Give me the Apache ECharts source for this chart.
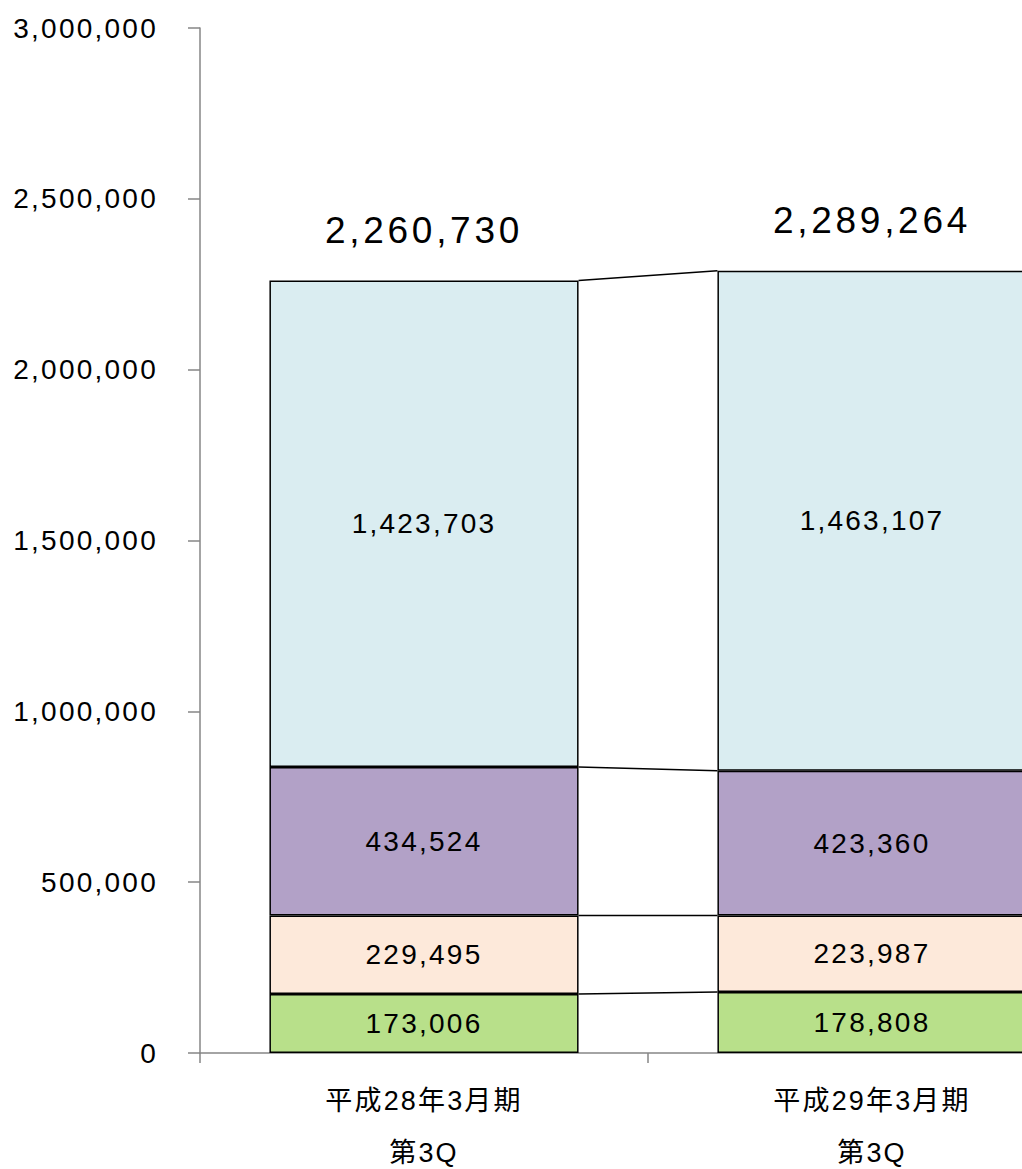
<!DOCTYPE html>
<html>
<head>
<meta charset="utf-8">
<script src="https://cdn.jsdelivr.net/npm/echarts@6/dist/echarts.min.js"></script>
<style>
html, body { margin: 0; padding: 0; background: #fff; }
#chart { width: 1022px; height: 1169px; }
#chart text { letter-spacing: 0.08em; }
#chart text[style*="37px"] { letter-spacing: 0.1em; }
</style>
</head>
<body>
<div id="chart"></div>
<script>
// ---- data ----
const categories = ['平成28年3月期\n第3Q', '平成29年3月期\n第3Q'];
const seriesNames = ['区分1', '区分2', '区分3', '区分4'];
const valuesGreen  = [173006, 178808];
const valuesPeach  = [229495, 223987];
const valuesPurple = [434524, 423360];
const valuesBlue   = [1423703, 1463107];
const totals       = [2260730, 2289264];
const yMax = 3000000;
const yInterval = 500000;

const colors = ['#B8E08A', '#FDE9DA', '#B2A1C7', '#DAEDF1'];
const stacks = [valuesGreen, valuesPeach, valuesPurple, valuesBlue];
const BAR_RATIO = 0.69;
const NUM_FONT = '"Liberation Sans", Arial, sans-serif';
const fmt = v => Number(v).toLocaleString('en-US');

// cumulative tops for connector lines
const connectorData = [];
let c0 = 0, c1 = 0;
stacks.forEach((arr, i) => {
  c0 += arr[0]; c1 += arr[1];
  const last = i === stacks.length - 1;
  connectorData.push([0, last ? totals[0] : c0, last ? totals[1] : c1]);
});

const chart = echarts.init(document.getElementById('chart'), null, { renderer: 'svg' });

const barSeries = stacks.map((arr, i) => ({
  name: seriesNames[i],
  type: 'bar',
  stack: 'total',
  barWidth: (BAR_RATIO * 100) + '%',
  data: arr,
  itemStyle: { color: colors[i], borderColor: '#000', borderWidth: 1.5 },
  label: {
    show: true,
    position: 'inside',
    formatter: p => fmt(p.value),
    color: '#000',
    fontSize: 28,
    fontFamily: NUM_FONT
  },
  emphasis: { disabled: true },
  z: 2
}));

chart.setOption({
  animation: false,
  backgroundColor: '#fff',
  grid: { left: 200, top: 28, width: 896, height: 1025, containLabel: false, outerBoundsMode: 'none' },
  xAxis: {
    type: 'category',
    data: categories,
    boundaryGap: true,
    axisLine: { show: true, lineStyle: { color: '#868686', width: 1.5 } },
    axisTick: { show: true, alignWithLabel: false, length: 10, lineStyle: { color: '#868686', width: 1.5 } },
    axisLabel: {
      interval: 0,
      margin: 22,
      color: '#000',
      fontSize: 27,
      lineHeight: 52,
      fontFamily: '"Liberation Sans", "Noto Sans CJK JP", sans-serif'
    },
    splitLine: { show: false }
  },
  yAxis: {
    type: 'value',
    min: 0,
    max: yMax,
    interval: yInterval,
    axisLine: { show: true, lineStyle: { color: '#868686', width: 1.5 } },
    axisTick: { show: true, length: 12, lineStyle: { color: '#868686', width: 1.5 } },
    axisLabel: {
      margin: 42,
      color: '#000',
      fontSize: 28,
      fontFamily: NUM_FONT,
      formatter: v => fmt(v)
    },
    splitLine: { show: false }
  },
  series: [
    ...barSeries,
    {
      type: 'custom',
      name: 'connectors',
      data: connectorData,
      encode: { x: 0, y: [1, 2] },
      silent: true,
      z: 3,
      renderItem: (params, api) => {
        const band = api.size([1, 0])[0];
        const half = band * BAR_RATIO / 2;
        const p0 = api.coord([0, api.value(1)]);
        const p1 = api.coord([1, api.value(2)]);
        return {
          type: 'line',
          shape: { x1: p0[0] + half, y1: p0[1], x2: p1[0] - half, y2: p1[1] },
          style: { stroke: '#000', lineWidth: 1.5 }
        };
      }
    },
    {
      type: 'custom',
      name: 'totals',
      data: totals.map((t, i) => [i, t]),
      encode: { x: 0, y: 1 },
      silent: true,
      z: 4,
      renderItem: (params, api) => {
        const p = api.coord([api.value(0), api.value(1)]);
        return {
          type: 'text',
          x: p[0],
          y: p[1] - 50,
          style: {
            text: fmt(api.value(1)),
            fontSize: 37,
            fontFamily: NUM_FONT,
            fill: '#000',
            align: 'center',
            verticalAlign: 'middle'
          }
        };
      }
    }
  ]
});
</script>
</body>
</html>
